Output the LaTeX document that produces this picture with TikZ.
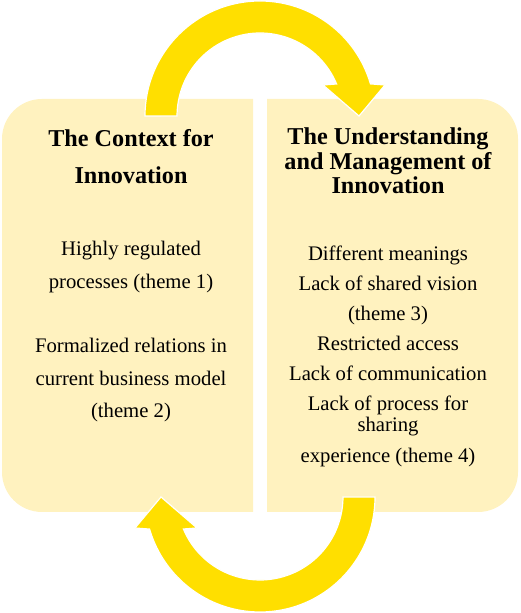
\documentclass[tikz,border=0pt]{standalone}
\usepackage{fontspec}
\setmainfont{Liberation Serif}
\definecolor{paleyellow}{RGB}{255,242,191}
\definecolor{arrowyellow}{RGB}{255,223,0}
\tikzset{
	panel/.style={fill=paleyellow},
	cyclearrow/.style={fill=arrowyellow, draw=white, line width=0.6pt},
	headtext/.style={align=center, inner sep=0pt, anchor=base},
	bodytext/.style={align=center, inner sep=0pt, anchor=base}
}

\begin{document}
\begin{tikzpicture}[x=0.5pt, y=0.5pt]
			%%%%% START %%%%%
			\useasboundingbox (0, 0) rectangle (520, 613);
			
			% left panel, rounded on the outer side
			\fill[panel] (253, 101) -- (253, 514) -- (42, 514) arc[start angle=90, end angle=180, radius=40]
				-- (2, 141) arc[start angle=180, end angle=270, radius=40] -- cycle;
			% right panel
			\fill[panel] (267, 101) -- (267, 514) -- (478, 514) arc[start angle=90, end angle=0, radius=40]
				-- (518, 141) arc[start angle=0, end angle=-90, radius=40] -- cycle;
			
			% the base of these nodes is the baseline of their last line
			\node[headtext, font=\bfseries\fontsize{12.1}{18.5}\selectfont] (contextHead) at (131, 429) {The Context for\\Innovation};
			\node[headtext, font=\bfseries\fontsize{12.1}{12.25}\selectfont] (understandHead) at (388, 419) {The Understanding\\and Management of\\Innovation};
			
			\node[bodytext, font=\fontsize{10.35}{16.15}\selectfont] (contextBody) at (131, 195.5) {Highly regulated\\processes (theme 1)\\[16.15pt]Formalized relations in\\current business model\\(theme 2)};
			\node[bodytext, font=\fontsize{10.35}{15}\selectfont] (understandBody) at (388, 150) {Different meanings\\Lack of shared vision\\(theme 3)\\Restricted access\\Lack of communication\\Lack of process for\\[-4.75pt]sharing\\[0.75pt]experience (theme 4)};
			
			% top arrow, left panel to right panel
			\path[cyclearrow] (145, 497) arc[start angle=180, end angle=16.2, radius=115]
				-- (385, 528) -- (359, 497) -- (323, 528) -- (336.6, 529)
				arc[start angle=22.7, end angle=180, radius=83] -- cycle;
			% bottom arrow, right panel back to left panel
			\path[cyclearrow] (375, 116) arc[start angle=0, end angle=-163.8, radius=115]
				-- (135, 85) -- (161, 116) -- (197, 85) -- (183.4, 84)
				arc[start angle=-157.3, end angle=0, radius=83] -- cycle;
			
			%%%%% END %%%%%
\end{tikzpicture}
\end{document}
